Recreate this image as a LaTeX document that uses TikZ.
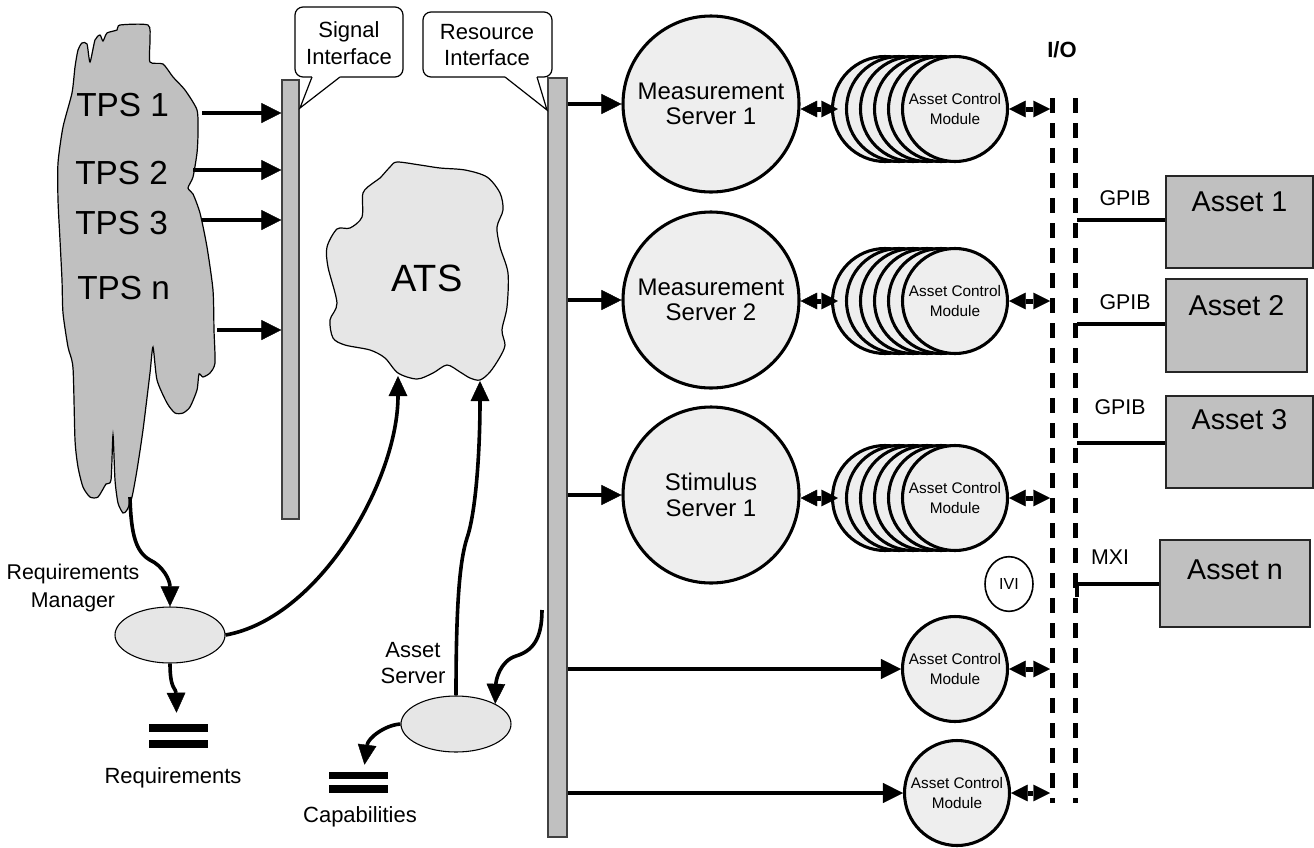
\documentclass[tikz,border=0pt]{standalone}
\usepackage{fontspec}
\setmainfont{Liberation Sans}
\usetikzlibrary{arrows.meta,shapes.geometric,calc}

\definecolor{blobgray}{HTML}{C0C0C0}
\definecolor{cloudgray}{HTML}{E6E6E6}
\definecolor{circfill}{HTML}{EEEEEE}
\definecolor{edgegray}{HTML}{404040}

\newcommand\fTps{\fontsize{25}{30}\selectfont}
\newcommand\fAts{\fontsize{28.5}{32}\selectfont}
\newcommand\fServer{\fontsize{18}{19}\selectfont}
\newcommand\fAcm{\fontsize{11.5}{15}\selectfont}
\newcommand\fCall{\fontsize{16.5}{20}\selectfont}
\newcommand\fLbl{\fontsize{16.5}{19.5}\selectfont}
\newcommand\fAsset{\fontsize{21.5}{24}\selectfont}
\newcommand\fLink{\fontsize{16}{18}\selectfont}
\newcommand\fIvi{\fontsize{12}{14}\selectfont}

\begin{document}
\begin{tikzpicture}[x=0.75pt,y=-0.75pt,
  arr/.style={line width=3.2pt,-{Triangle[length=15pt,width=15pt,line width=0.3pt]}},
  carr/.style={line width=2.7pt,-{Triangle[length=15pt,width=14pt,line width=0.3pt]}},
  dbl/.style={line width=3.75pt,{Triangle[length=12.5pt,width=12.5pt,line width=0.3pt]}-{Triangle[length=12.5pt,width=12.5pt,line width=0.3pt]}},
  bus/.style={rectangle,draw=edgegray,fill=blobgray,line width=0.9pt,inner sep=0},
  server/.style={circle,draw,line width=2.3pt,fill=circfill,minimum size=132pt,inner sep=0,align=center,font=\fServer},
  acm/.style={circle,draw,line width=2.3pt,fill=circfill,minimum size=78.75pt,inner sep=0,align=center,font=\fAcm},
  oval/.style={ellipse,draw,line width=0.8pt,fill=cloudgray,minimum width=82.5pt,minimum height=42pt,inner sep=0},
  assetbox/.style={rectangle,draw=black!85,line width=1.5pt,fill=blobgray,inner sep=0},
  assetlbl/.style={font=\fAsset,inner sep=0},
  iobus/.style={line width=3.75pt,dash pattern=on 11.25pt off 7.5pt},
  link/.style={line width=3pt},
  lbl/.style={font=\fLbl,align=center,inner sep=0},
  linklbl/.style={font=\fLink,inner sep=0},
  calltxt/.style={font=\fCall,align=center,inner sep=0},
  callbox/.style={draw,fill=white,line width=0.9pt,rounded corners=6pt},
  tps/.style={font=\fTps,anchor=west,inner sep=0},
  store/.style={rectangle,inner sep=0,minimum width=44.25pt},
]
\useasboundingbox (0,0) rectangle (1314,847);

% ---------------- test program sets (TPS cloud) ----------------
\draw[fill=blobgray,line width=0.9pt] plot[smooth cycle,tension=0.4] coordinates {
  (72,93) (75,67) (78,50) (82,43) (87,44) (90,62) (95,40) (100,35) (103,41)
  (107,33) (117,30) (120,25) (148,25) (150,40) (150,62) (163,64) (173,77)
  (185,90) (197,110) (198,133) (197,153) (193,177) (188,188) (193,194)
  (200,213) (207,247) (213,290) (214,330) (215,363) (210,373) (203,377)
  (199,374) (197,390) (190,407) (183,413) (175,413) (167,403) (157,380)
  (153,347) (150,373) (143,430) (137,470) (132,497) (127,510) (123,513)
  (118,503) (115,480) (113,435) (111,480) (106,484) (98,497) (90,497)
  (83,487) (78,467) (75,440) (73,368) (68,347) (63,313) (62,280) (60,240)
  (58,200) (58,163) (63,127)};

\node[tps] (tps1) at (76,105) {TPS 1};
\node[tps] (tps2) at (75,173) {TPS 2};
\node[tps] (tps3) at (75,223) {TPS 3};
\node[tps] (tpsn) at (77,288) {TPS n};

% ---------------- interface buses ----------------
\node[bus,minimum width=12.75pt,minimum height=329.25pt] (sbus) at (290.5,299.5) {};
\node[bus,minimum width=14.25pt,minimum height=569.25pt] (rbus) at (557.5,457.5) {};

\coordinate (t1) at (202,113);
\coordinate (t2) at (193,170);
\coordinate (t3) at (202,220);
\coordinate (tn) at (217,330);
\draw[arr] (t1) -- (t1 -| sbus.west);
\draw[arr] (t2) -- (t2 -| sbus.west);
\draw[arr] (t3) -- (t3 -| sbus.west);
\draw[arr] (tn) -- (tn -| sbus.west);

% ---------------- call-outs ----------------
\coordinate (sigtip) at (300,108);
\draw[callbox] (295,7) rectangle (403,77);
\fill[white] (312,74) -- (340,74) -- (340,77.8) -- (sigtip) -- (312,77.8) -- cycle;
\draw[line width=0.9pt,line join=miter] (312,77) -- (sigtip) -- (340,77);
\node[calltxt] (sigt) at (349,43) {Signal\\Interface};

\coordinate (restip) at (547,110);
\draw[callbox] (423,12) rectangle (552,77);
\fill[white] (505,74) -- (537,74) -- (537,77.8) -- (restip) -- (505,77.8) -- cycle;
\draw[line width=0.9pt,line join=miter] (505,77) -- (restip) -- (537,77);
\node[calltxt] (rest) at (487,45) {Resource\\Interface};

% ---------------- ATS cloud ----------------
\draw[fill=cloudgray,line width=0.9pt] plot[smooth cycle,tension=0.5] coordinates {
  (390,167) (397,162) (420,165) (440,168) (465,170) (487,177) (500,193)
  (503,210) (497,227) (500,247) (508,273) (507,307) (502,330) (505,345)
  (500,357) (490,372) (480,380) (470,378) (460,372) (447,365) (433,373)
  (417,379) (398,373) (385,358) (370,350) (345,345) (333,338) (330,320)
  (337,303) (328,267) (327,247) (337,229) (350,228) (362,217) (363,193)
  (373,183) (380,178)};
\node[font=\fAts] (ats) at (427,278) {ATS};
\coordinate (atsA) at (398,376);
\coordinate (atsB) at (480,381);

% ---------------- servers ----------------
\node[server] (ms1) at (711,104) {Measurement\\Server 1};
\node[server] (ms2) at (711,300) {Measurement\\Server 2};
\node[server] (ss1) at (711,495) {Stimulus\\Server 1};

\draw[arr] (rbus.east |- ms1) -- (ms1);
\draw[arr] (rbus.east |- ms2) -- (ms2);
\draw[arr] (rbus.east |- ss1) -- (ss1);

% ---------------- asset control module stacks ----------------
\foreach \r/\y in {1/109,2/301,3/498}{
  \foreach \k/\x in {a/885,b/899,c/913,d/927,e/941}{
    \node[acm] (acm\r\k) at (\x,\y) {};
  }
  \node[acm] (acm\r) at (955,\y) {Asset Control\\Module};
}
\node[acm] (acm4) at (955,669) {Asset Control\\Module};
\node[acm] (acm5) at (957,793) {Asset Control\\Module};

\draw[arr] (rbus.east |- acm4) -- (acm4);
\draw[arr] (rbus.east |- acm5) -- (acm5);

\draw[dbl] (acm1a.west -| ms1.east) -- ($(acm1a.west)+(7,0)$);
\draw[dbl] (acm2a.west -| ms2.east) -- ($(acm2a.west)+(7,0)$);
\draw[dbl] (acm3a.west -| ss1.east) -- ($(acm3a.west)+(7,0)$);

% ---------------- I/O bus ----------------
\coordinate (iolt) at (1052,98);
\coordinate (iolb) at (1052,803);
\coordinate (iort) at (1075,98);
\coordinate (iorb) at (1075,803);
\coordinate (iol) at (1050,98);
\draw[iobus] (iolt) -- (iolb);
\draw[iobus] (iort) -- (iorb);
\node[font=\bfseries\fontsize{16.5}{18}\selectfont,inner sep=0] (iolbl) at (1062,50) {I/O};

\draw[dbl] (acm1.east) -- (acm1.east -| iol);
\draw[dbl] (acm2.east) -- (acm2.east -| iol);
\draw[dbl] (acm3.east) -- (acm3.east -| iol);
\draw[dbl] (acm4.east) -- (acm4.east -| iol);
\draw[dbl] (acm5.east) -- (acm5.east -| iol);

\node[ellipse,draw,line width=1.2pt,fill=white,minimum width=36pt,minimum height=41pt,inner sep=0,font=\fIvi] (ivi) at (1009,584) {IVI};

% ---------------- assets ----------------
\node[assetbox,minimum width=110.25pt,minimum height=69pt,
  label={[assetlbl,yshift=15pt]center:Asset 1}] (as1) at (1239.5,222) {};
\node[assetbox,minimum width=105.75pt,minimum height=69.75pt,
  label={[assetlbl,yshift=15pt]center:Asset 2}] (as2) at (1236.5,325.5) {};
\node[assetbox,minimum width=110.25pt,minimum height=69pt,
  label={[assetlbl,yshift=16.5pt]center:Asset 3}] (as3) at (1239.5,442) {};
\node[assetbox,minimum width=112.5pt,minimum height=65.25pt,
  label={[assetlbl,yshift=10pt]center:Asset n}] (asn) at (1235,583.5) {};

\coordinate (g1) at (1077,220);
\coordinate (g2) at (1077,324);
\coordinate (g3) at (1077,443);
\coordinate (mx) at (1077,597);
\draw[link] (g1) -- (g1 -| as1.west);
\draw[link] (g2) -- (g2 -| as2.west);
\draw[link] (g3) -- (g3 -| as3.west);
\draw[link] (mx) |- (asn.west);
\node[linklbl] (g1t) at (1125,198) {GPIB};
\node[linklbl] (g2t) at (1125,302) {GPIB};
\node[linklbl] (g3t) at (1120,407) {GPIB};
\node[linklbl] (mxt) at (1110,557) {MXI};

% ---------------- requirements manager ----------------
\node[oval] (rm) at (170,635) {};
\node[lbl,font=\fontsize{16}{21.5}\selectfont] (rmt) at (73,588) {Requirements\\Manager};
\coordinate (tpsfoot) at (130,497);
\draw[carr] (tpsfoot) .. controls (131,535) and (136,552) .. (150,560)
  .. controls (163,566) and (170,580) .. (rm.north);
\draw[carr] (rm.east) .. controls (320,618) and (398,480) .. (atsA);

\node[store,minimum height=18pt] (rstore) at (178.5,736) {};
\fill (rstore.north west) rectangle ++(59,8);
\fill (rstore.south west) rectangle ++(59,-8);
\draw[carr] (rm.south) .. controls (170,690) and (176,688) .. ($(rstore.north)+(-2,-11)$);
\node[lbl] (rlbl) at (173,778) {Requirements};

% ---------------- asset server ----------------
\node[oval] (asrv) at (456,724) {};
\node[lbl] (asrvt) at (413,663) {Asset\\Server};
\draw[carr] (asrv.north) .. controls (456,600) and (460,560) .. (467,538)
  .. controls (476,512) and (480,450) .. (atsB);
\coordinate (rbtap) at (542,610);
\draw[carr] (rbtap) .. controls (542,640) and (532,651) .. (516,656)
  .. controls (500,661) and (496,680) .. (asrv.north east);

\node[store,minimum height=15.75pt] (cstore) at (358.5,782.5) {};
\fill (cstore.north west) rectangle ++(59,7);
\fill (cstore.south west) rectangle ++(59,-8);
\draw[carr] (asrv.west) .. controls (385,725) and (368,738) .. ($(cstore.north)+(6,-7)$);
\node[lbl] (clbl) at (360,817) {Capabilities};

\end{tikzpicture}
\end{document}
